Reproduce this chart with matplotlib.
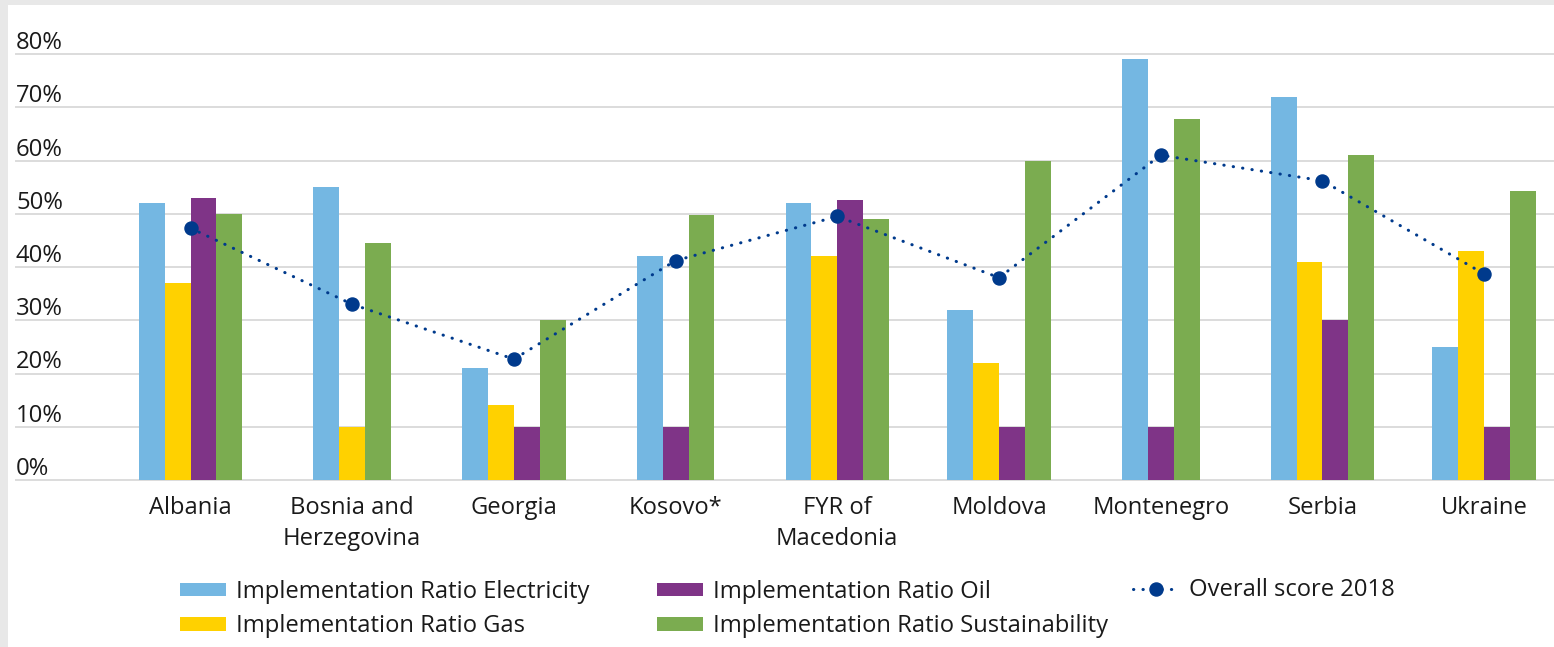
import numpy as np
import matplotlib
matplotlib.use("Agg")
import matplotlib.pyplot as plt
import matplotlib.patches as mpatches
import matplotlib.transforms as mtransforms
from matplotlib.lines import Line2D

plt.rcParams["font.family"] = ["Open Sans", "DejaVu Sans"]

countries = ["Albania", "Bosnia and\nHerzegovina", "Georgia", "Kosovo*",
             "FYR of\nMacedonia", "Moldova", "Montenegro", "Serbia", "Ukraine"]
nan = np.nan
electricity = [52, 55, 21, 42, 52, 32, 79, 72, 25]
gas = [37, 10, 14, nan, 42, 22, nan, 41, 43]
oil = [53, nan, 10, 10, 52.5, 10, 10, 30, 10]
sustainability = [50, 44.5, 30, 49.7, 49, 60, 67.7, 61, 54.2]
overall_2018 = [47.3, 33, 22.7, 41.2, 49.5, 38, 61, 56.2, 38.7]
y_ticks = [0, 10, 20, 30, 40, 50, 60, 70, 80]

series = [
    ("Implementation Ratio Electricity", electricity, "#74b7e2"),
    ("Implementation Ratio Gas", gas, "#ffd100"),
    ("Implementation Ratio Oil", oil, "#7f3487"),
    ("Implementation Ratio Sustainability", sustainability, "#7bac50"),
]
LINE_COLOR = "#003a8c"
GRID_COLOR = "#dcdcdc"
TEXT_COLOR = "#1a1a1a"
FS = 17.1

W, H, DPI = 1554, 647, 100
fig = plt.figure(figsize=(W / DPI, H / DPI), dpi=DPI, facecolor="#e8e8e8")
fig.add_artist(mpatches.Rectangle((8 / W, 0), 1, 1 - 5 / H, transform=fig.transFigure,
                                  facecolor="white", edgecolor="none", zorder=0))

# axes spans from the left gridline start to the right edge
ax = fig.add_axes([16 / W, 1 - 480 / H, 1 - 16 / W, (480 - 54) / H])
ax.set_facecolor("none")
x0, step = 190.5, 161.7
ax.set_xlim((16 - x0) / step, (W - x0) / step)
ax.set_ylim(0, 80)
for s in ax.spines.values():
    s.set_visible(False)
ax.set_xticks([])
ax.set_yticks([])

for v in y_ticks:
    ax.axhline(v, color=GRID_COLOR, lw=1.4, zorder=0, clip_on=False)
    ax.text(0, v, f"{v}%", transform=mtransforms.offset_copy(
        ax.get_yaxis_transform(), fig, y=5, units="dots"),
        ha="left", va="baseline", fontsize=FS, color=TEXT_COLOR)

# bars: only the series present for a country are drawn, centred on it
bar_w = 0.16
x = np.arange(len(countries))
pos = {name: [] for name, _, _ in series}
for i in range(len(countries)):
    present = [name for name, vals, _ in series if not np.isnan(vals[i])]
    offs = (np.arange(len(present)) - (len(present) - 1) / 2) * bar_w
    for name, off in zip(present, offs):
        pos[name].append((i, x[i] + off))

handles = []
for name, vals, color in series:
    idx = [p[0] for p in pos[name]]
    xs = [p[1] for p in pos[name]]
    hs = [vals[k] for k in idx]
    ax.bar(xs, hs, width=bar_w, color=color, zorder=2)
    handles.append(mpatches.Patch(facecolor=color, label=name))

line_kw = dict(color=LINE_COLOR, lw=2.2, linestyle=(0, (0.1, 3.0)),
               dash_capstyle="round", marker="o", markersize=9.4)
ax.plot(x, overall_2018, zorder=3, clip_on=False, **line_kw)
line_handle = Line2D([], [], label="Overall score 2018", **line_kw)

# category names, one text per line so every first line shares a baseline
for xi, name in zip(x, countries):
    for k, part in enumerate(name.split("\n")):
        tr = mtransforms.offset_copy(ax.get_xaxis_transform(), fig,
                                     y=-34 - 31 * k, units="dots")
        ax.text(xi, 0, part, transform=tr, ha="center", va="baseline",
                fontsize=FS, color=TEXT_COLOR)

leg_kw = dict(frameon=False, fontsize=FS, borderpad=0, borderaxespad=0,
              handlelength=1.92, handleheight=0.47, handletextpad=0.45,
              labelspacing=0.46, labelcolor=TEXT_COLOR, loc="center left")
fig.legend(handles=handles[:2], bbox_to_anchor=(180 / W, 1 - 609 / H), **leg_kw)
fig.legend(handles=handles[2:], bbox_to_anchor=(657 / W, 1 - 609 / H), **leg_kw)
fig.legend(handles=[line_handle], bbox_to_anchor=(1133 / W, 1 - 590 / H), **leg_kw)

fig.savefig("out.png", dpi=DPI, facecolor=fig.get_facecolor())
